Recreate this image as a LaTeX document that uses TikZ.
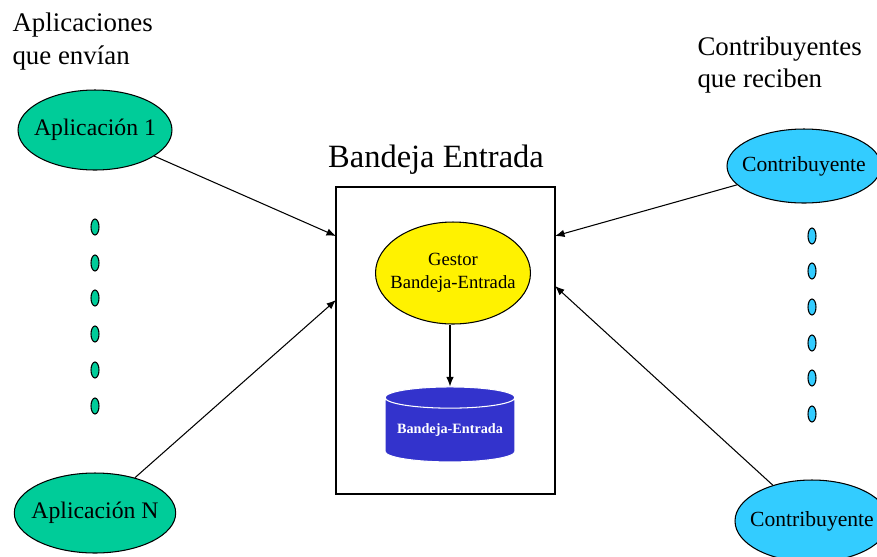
\documentclass[tikz,border=0pt]{standalone}
\usepackage{fontspec}
\setmainfont{Liberation Serif}
\usetikzlibrary{shapes.geometric,arrows.meta}

\definecolor{appgreen}{RGB}{0,204,153}
\definecolor{contribcyan}{RGB}{51,204,255}
\definecolor{trayblue}{RGB}{51,51,204}

\begin{document}
\begin{tikzpicture}[x=0.02cm,y=-0.02cm,line width=0.6pt,>={Latex[length=1.9mm,width=1.5mm]}]
  \useasboundingbox (0,0) rectangle (877,556);
  \path[clip] (0,0) rectangle (877,556);

  \tikzset{
    app/.style={ellipse,draw=black,fill=appgreen,minimum width=3.08cm,
      minimum height=1.6cm,inner xsep=-0.13cm,inner ysep=0pt,
      font=\fontsize{13.5}{16}\selectfont},
    contrib/.style={ellipse,draw=black,fill=contribcyan,minimum width=3.08cm,
      minimum height=1.48cm,inner xsep=-0.15cm,inner ysep=0pt,
      font=\fontsize{12.3}{15}\selectfont},
    dot/.style={ellipse,draw=black,minimum width=0.16cm,minimum height=0.32cm,inner sep=0pt}
  }

  % headings
  \node[anchor=north west,inner sep=0pt,align=left,font=\fontsize{15.3}{18.7}\selectfont]
    (senders) at (12,12) {Aplicaciones\\que envían};
  \node[anchor=north west,inner sep=0pt,align=left,font=\fontsize{15.3}{18.2}\selectfont]
    (receivers) at (697,36) {Contribuyentes\\que reciben};

  % senders
  \node[app] (app1) at (95,130) {Aplicación 1};
  \node[app] (appN) at (95,513) {Aplicación N};
  \foreach \y in {227,263,298,334,370,406}
    \node[dot,fill=appgreen] at (95,\y) {};

  % receivers
  \node[contrib] (contrib1) at (804,166) {Contribuyente};
  \node[contrib,minimum height=1.64cm] (contribN) at (812,521) {Contribuyente};
  \foreach \y in {236,271,307,343,378,414}
    \node[dot,fill=contribcyan] at (812,\y) {};

  % inbox
  \draw (336,187) rectangle (555,494);
  \node[font=\fontsize{18.5}{22}\selectfont] (title) at (436,160) {Bandeja Entrada};
  \node[ellipse,draw=black,fill=yellow,minimum width=3.1cm,minimum height=2.04cm,
    inner xsep=-0.165cm,inner ysep=0pt,align=center,font=\fontsize{10.6}{13}\selectfont]
    (gestor) at (453,273) {Gestor\\Bandeja-Entrada};
  \node[cylinder,shape border rotate=90,aspect=0.2,draw=white,fill=trayblue,
    minimum width=2.6cm,minimum height=1.5cm,inner sep=0pt,text=white,
    font=\bfseries\fontsize{8.1}{10}\selectfont]
    (bandeja) at (450,430) {Bandeja-Entrada};
  \draw[->] (gestor.south -| bandeja.north) -- (bandeja.north);

  \coordinate (in app1) at (336,236);
  \coordinate (in appN) at (336,300);
  \coordinate (in contrib1) at (555,236);
  \coordinate (in contribN) at (555,286);

  \draw[->] (app1) -- (in app1);
  \draw[->] (appN) -- (in appN);
  \draw[->] (contrib1) -- (in contrib1);
  \draw[->] (contribN) -- (in contribN);
\end{tikzpicture}
\end{document}
